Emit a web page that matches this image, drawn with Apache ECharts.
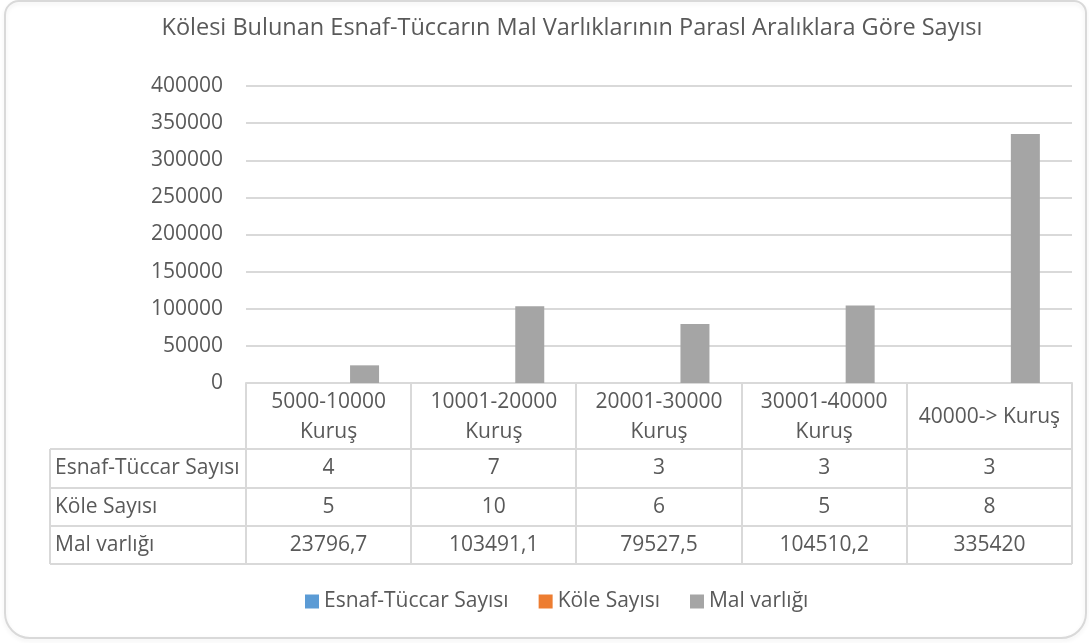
<!DOCTYPE html>
<html><head><meta charset="utf-8">
<script src="https://cdn.jsdelivr.net/npm/echarts@6/dist/echarts.min.js"></script>
<style>html,body{margin:0;padding:0;background:#fff}#c{width:1089px;height:643px}</style>
</head><body><div id="c"></div>
<script>
const chartTitle = 'Kölesi Bulunan Esnaf-Tüccarın Mal Varlıklarının Parasl Aralıklara Göre Sayısı';
const categories = ['5000-10000\nKuruş', '10001-20000\nKuruş', '20001-30000\nKuruş', '30001-40000\nKuruş', '40000-> Kuruş'];
const seriesNames = ['Esnaf-Tüccar Sayısı', 'Köle Sayısı', 'Mal varlığı'];
const esnafTuccar = [4, 7, 3, 3, 3];
const koleSayisi = [5, 10, 6, 5, 8];
const malVarligi = [23796.7, 103491.1, 79527.5, 104510.2, 335420];
const yMin = 0, yMax = 400000, yStep = 50000;
const colors = ['#5B9BD5', '#ED7D31', '#A5A5A5'];

const FONT = 'Open Sans';
const TXT = '#595959';
const LINE = '#D9D9D9';
const FS = 21;

const chart = echarts.init(document.getElementById('c'), null, {renderer: 'canvas'});
const seriesData = [esnafTuccar, koleSayisi, malVarligi];

chart.setOption({
  animation: false,
  textStyle: {fontFamily: FONT},
  title: {
    text: chartTitle, left: 567, top: 11, textAlign: 'center',
    textStyle: {fontFamily: FONT, fontSize: 23.5, fontWeight: 'normal', color: TXT}
  },
  legend: {
    data: seriesNames, left: 305, top: 591, icon: 'rect', itemWidth: 14, itemHeight: 14,
    itemGap: 30, padding: 0,
    textStyle: {fontFamily: FONT, fontSize: FS, color: TXT}
  },
  grid: {left: 246, right: 17, top: 86, bottom: 260, containLabel: false, outerBoundsMode: 'none'},
  xAxis: {
    type: 'category', data: categories,
    axisLine: {show: true, lineStyle: {color: LINE, width: 2}},
    axisTick: {show: false}, axisLabel: {show: false}
  },
  yAxis: {
    type: 'value', min: yMin, max: yMax, interval: yStep,
    axisLine: {show: false}, axisTick: {show: false},
    axisLabel: {margin: 23, fontFamily: FONT, fontSize: FS, color: TXT, formatter: v => String(v)},
    splitLine: {lineStyle: {color: LINE, width: 2}}
  },
  series: seriesNames.map((n, i) => ({
    name: n, type: 'bar', data: seriesData[i], barWidth: 29, barGap: '24%',
    itemStyle: {color: colors[i]}
  }))
});

// Data table beneath the plot, built from the arrays and the axis scale
function fmt(v) { return String(v).replace('.', ','); }
const centers = categories.map((c, i) => chart.convertToPixel({xAxisIndex: 0}, i));
const band = centers[1] - centers[0];
const tRight = Math.round(centers[centers.length - 1] + band / 2);
const top0 = Math.round(chart.convertToPixel({yAxisIndex: 0}, 0));
const rowH = [66, 39, 38, 38];
const rowY = [top0];
rowH.forEach(h => rowY.push(rowY[rowY.length - 1] + h));
const labelColLeft = 50;

const g = [];
g.push({type: 'rect', shape: {x: 5, y: 1, width: 1081, height: 637, r: [14, 12, 25, 25]},
  style: {fill: 'none', stroke: LINE, lineWidth: 2, shadowBlur: 4, shadowColor: 'rgba(0,0,0,0.08)', shadowOffsetY: 2}, z: -1});
for (let r = 1; r < rowY.length; r++) {
  g.push({type: 'line', shape: {x1: labelColLeft, y1: rowY[r], x2: tRight, y2: rowY[r]},
    style: {stroke: LINE, lineWidth: 2}});
}
for (let i = 0; i <= categories.length; i++) {
  const x = Math.round(centers[0] - band / 2 + i * band);
  g.push({type: 'line', shape: {x1: x, y1: rowY[0], x2: x, y2: rowY[rowY.length - 1]},
    style: {stroke: LINE, lineWidth: 2}});
}
g.push({type: 'line', shape: {x1: labelColLeft, y1: rowY[1], x2: labelColLeft, y2: rowY[rowY.length - 1]},
  style: {stroke: LINE, lineWidth: 2}});
categories.forEach((c, i) => {
  g.push({type: 'text', style: {text: c, x: centers[i], y: (rowY[0] + rowY[1]) / 2 + 1,
    align: 'center', verticalAlign: 'middle', lineHeight: 30,
    font: FS + 'px ' + FONT, fill: TXT}});
});
seriesNames.forEach((n, r) => {
  const yc = (rowY[r + 1] + rowY[r + 2]) / 2;
  g.push({type: 'text', style: {text: n, x: labelColLeft + 5, y: yc, align: 'left', verticalAlign: 'middle',
    font: FS + 'px ' + FONT, fill: TXT}});
  seriesData[r].forEach((v, i) => {
    g.push({type: 'text', style: {text: fmt(v), x: centers[i], y: yc, align: 'center', verticalAlign: 'middle',
      font: FS + 'px ' + FONT, fill: TXT}});
  });
});
chart.setOption({graphic: {elements: g}});
</script></body></html>
